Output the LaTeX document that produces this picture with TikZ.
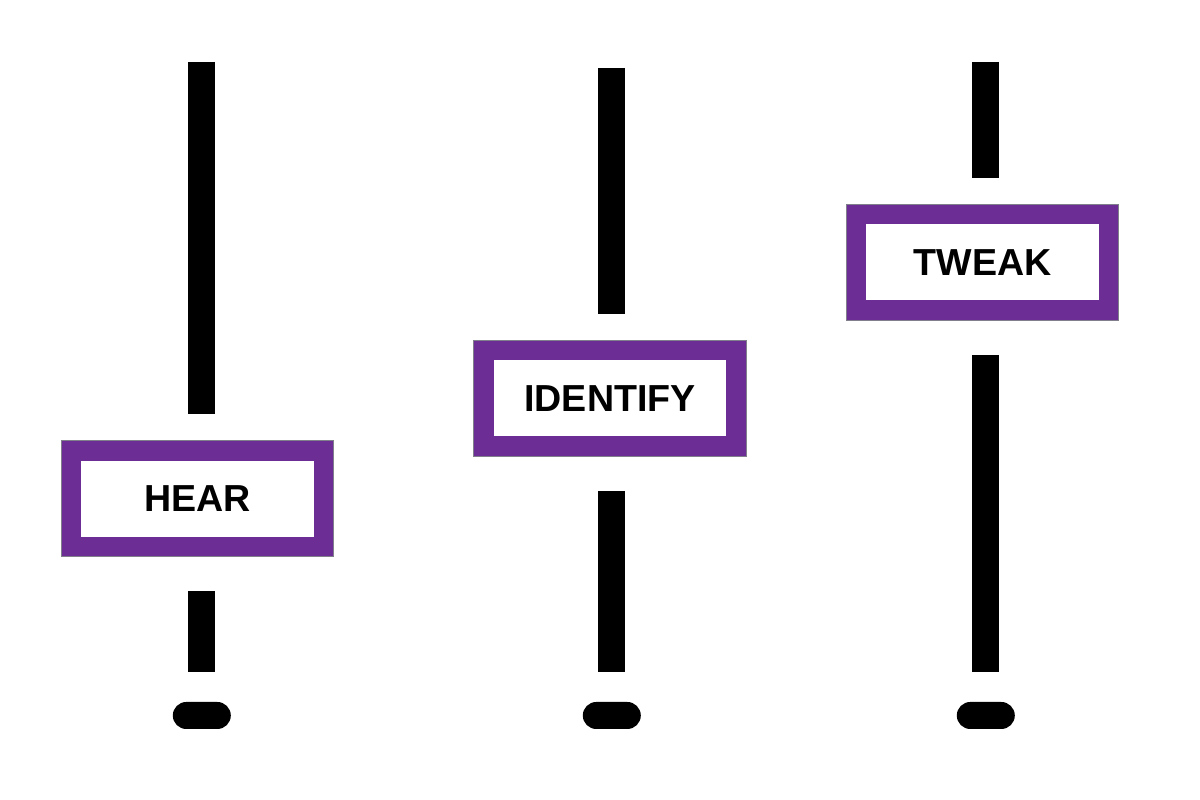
\documentclass[tikz,border=0pt]{standalone}
\usepackage{fontspec}
\setmainfont{Liberation Sans}
\usetikzlibrary{positioning,calc}
\definecolor{knobpurple}{RGB}{108,46,148}
\definecolor{knobrim}{RGB}{128,128,140}

\begin{document}
\begin{tikzpicture}[
  knob/.style={draw=knobpurple, line width=0.195cm, fill=white,
    preaction={draw=knobrim, line width=0.215cm},
    minimum width=2.52cm, minimum height=0.955cm, inner sep=0pt,
    outer sep=0.1075cm, font=\fontsize{10.7}{12}\selectfont\bfseries},
  base/.style={fill=black, rounded corners=0.135cm, minimum width=0.58cm,
    minimum height=0.27cm, inner sep=0pt, outer sep=0pt},
  bar/.style={line width=0.27cm, black, line cap=butt}]
\useasboundingbox (0,0) rectangle (12,8);
% Sliders: name / track x / track top / knob x / knob y / label
\foreach \n/\bx/\ty/\kx/\ky/\label in {hear/2.015/7.38/1.975/3.01/HEAR,
    identify/6.115/7.32/6.10/4.015/IDENTIFY,
    tweak/9.855/7.38/9.825/5.375/TWEAK} {
  \coordinate (\n-top) at (\bx,\ty);
  \node[knob] (\n-knob) at (\kx,\ky) {\label};
  \node[base] (\n-base) at (\bx+0.003,0.845) {};
  % track above and below the knob
  \draw[bar, shorten >=0.26cm] (\n-top) -- (\n-top |- \n-knob.north);
  \draw[bar, shorten <=0.34cm, shorten >=0.30cm] (\n-top |- \n-knob.south) -- (\n-top |- \n-base.north);
}
\end{tikzpicture}
\end{document}
